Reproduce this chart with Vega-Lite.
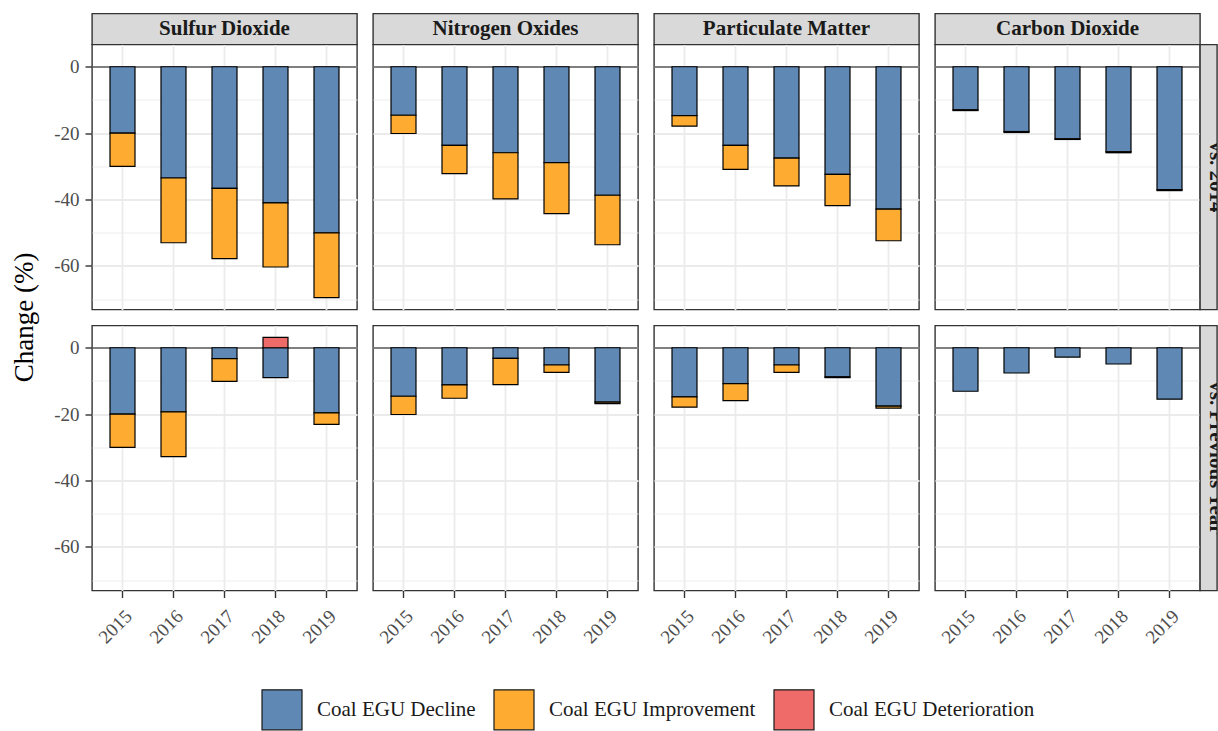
{
  "$schema": "https://vega.github.io/schema/vega-lite/v6.json",
  "background": "white",
  "padding": {"left": 0, "top": 12.5, "right": 0, "bottom": 0},
  "config": {
    "font": "Liberation Serif",
    "view": {"stroke": "#333333", "strokeWidth": 1.4, "fill": "white"},
    "axis": {
      "labelFont": "Liberation Serif", "labelFontSize": 19, "labelColor": "#4D4D4D",
      "tickColor": "#333333", "tickWidth": 1.4, "tickSize": 7,
      "gridColor": "#EBEBEB", "domain": false, "title": null
    },
    "legend": {
      "symbolType": "square", "symbolSize": 1600, "symbolStrokeColor": "#1A1A1A", "symbolStrokeWidth": 1.2,
      "symbolOpacity": 1, "labelFont": "Liberation Serif", "labelFontSize": 21, "labelColor": "#1A1A1A",
      "labelOffset": 14, "columnPadding": 15, "padding": 0, "labelLimit": 400
    }
  },
  "datasets": {
    "emissions": [
      {"pollutant": "Sulfur Dioxide", "comparison": "vs. 2014", "year": "2015", "component": "Coal EGU Decline", "value": -20.0},
      {"pollutant": "Sulfur Dioxide", "comparison": "vs. 2014", "year": "2015", "component": "Coal EGU Improvement", "value": -10.0},
      {"pollutant": "Sulfur Dioxide", "comparison": "vs. 2014", "year": "2016", "component": "Coal EGU Decline", "value": -33.5},
      {"pollutant": "Sulfur Dioxide", "comparison": "vs. 2014", "year": "2016", "component": "Coal EGU Improvement", "value": -19.5},
      {"pollutant": "Sulfur Dioxide", "comparison": "vs. 2014", "year": "2017", "component": "Coal EGU Decline", "value": -36.6},
      {"pollutant": "Sulfur Dioxide", "comparison": "vs. 2014", "year": "2017", "component": "Coal EGU Improvement", "value": -21.2},
      {"pollutant": "Sulfur Dioxide", "comparison": "vs. 2014", "year": "2018", "component": "Coal EGU Decline", "value": -41.0},
      {"pollutant": "Sulfur Dioxide", "comparison": "vs. 2014", "year": "2018", "component": "Coal EGU Improvement", "value": -19.3},
      {"pollutant": "Sulfur Dioxide", "comparison": "vs. 2014", "year": "2019", "component": "Coal EGU Decline", "value": -50.0},
      {"pollutant": "Sulfur Dioxide", "comparison": "vs. 2014", "year": "2019", "component": "Coal EGU Improvement", "value": -19.5},
      {"pollutant": "Nitrogen Oxides", "comparison": "vs. 2014", "year": "2015", "component": "Coal EGU Decline", "value": -14.6},
      {"pollutant": "Nitrogen Oxides", "comparison": "vs. 2014", "year": "2015", "component": "Coal EGU Improvement", "value": -5.5},
      {"pollutant": "Nitrogen Oxides", "comparison": "vs. 2014", "year": "2016", "component": "Coal EGU Decline", "value": -23.7},
      {"pollutant": "Nitrogen Oxides", "comparison": "vs. 2014", "year": "2016", "component": "Coal EGU Improvement", "value": -8.5},
      {"pollutant": "Nitrogen Oxides", "comparison": "vs. 2014", "year": "2017", "component": "Coal EGU Decline", "value": -25.9},
      {"pollutant": "Nitrogen Oxides", "comparison": "vs. 2014", "year": "2017", "component": "Coal EGU Improvement", "value": -13.9},
      {"pollutant": "Nitrogen Oxides", "comparison": "vs. 2014", "year": "2018", "component": "Coal EGU Decline", "value": -28.9},
      {"pollutant": "Nitrogen Oxides", "comparison": "vs. 2014", "year": "2018", "component": "Coal EGU Improvement", "value": -15.3},
      {"pollutant": "Nitrogen Oxides", "comparison": "vs. 2014", "year": "2019", "component": "Coal EGU Decline", "value": -38.7},
      {"pollutant": "Nitrogen Oxides", "comparison": "vs. 2014", "year": "2019", "component": "Coal EGU Improvement", "value": -14.9},
      {"pollutant": "Particulate Matter", "comparison": "vs. 2014", "year": "2015", "component": "Coal EGU Decline", "value": -14.7},
      {"pollutant": "Particulate Matter", "comparison": "vs. 2014", "year": "2015", "component": "Coal EGU Improvement", "value": -3.2},
      {"pollutant": "Particulate Matter", "comparison": "vs. 2014", "year": "2016", "component": "Coal EGU Decline", "value": -23.7},
      {"pollutant": "Particulate Matter", "comparison": "vs. 2014", "year": "2016", "component": "Coal EGU Improvement", "value": -7.2},
      {"pollutant": "Particulate Matter", "comparison": "vs. 2014", "year": "2017", "component": "Coal EGU Decline", "value": -27.5},
      {"pollutant": "Particulate Matter", "comparison": "vs. 2014", "year": "2017", "component": "Coal EGU Improvement", "value": -8.4},
      {"pollutant": "Particulate Matter", "comparison": "vs. 2014", "year": "2018", "component": "Coal EGU Decline", "value": -32.4},
      {"pollutant": "Particulate Matter", "comparison": "vs. 2014", "year": "2018", "component": "Coal EGU Improvement", "value": -9.4},
      {"pollutant": "Particulate Matter", "comparison": "vs. 2014", "year": "2019", "component": "Coal EGU Decline", "value": -42.9},
      {"pollutant": "Particulate Matter", "comparison": "vs. 2014", "year": "2019", "component": "Coal EGU Improvement", "value": -9.5},
      {"pollutant": "Carbon Dioxide", "comparison": "vs. 2014", "year": "2015", "component": "Coal EGU Decline", "value": -13.0},
      {"pollutant": "Carbon Dioxide", "comparison": "vs. 2014", "year": "2015", "component": "Coal EGU Improvement", "value": -0.2},
      {"pollutant": "Carbon Dioxide", "comparison": "vs. 2014", "year": "2016", "component": "Coal EGU Decline", "value": -19.5},
      {"pollutant": "Carbon Dioxide", "comparison": "vs. 2014", "year": "2016", "component": "Coal EGU Improvement", "value": -0.3},
      {"pollutant": "Carbon Dioxide", "comparison": "vs. 2014", "year": "2017", "component": "Coal EGU Decline", "value": -21.7},
      {"pollutant": "Carbon Dioxide", "comparison": "vs. 2014", "year": "2017", "component": "Coal EGU Improvement", "value": -0.2},
      {"pollutant": "Carbon Dioxide", "comparison": "vs. 2014", "year": "2018", "component": "Coal EGU Decline", "value": -25.6},
      {"pollutant": "Carbon Dioxide", "comparison": "vs. 2014", "year": "2018", "component": "Coal EGU Improvement", "value": -0.3},
      {"pollutant": "Carbon Dioxide", "comparison": "vs. 2014", "year": "2019", "component": "Coal EGU Decline", "value": -37.0},
      {"pollutant": "Carbon Dioxide", "comparison": "vs. 2014", "year": "2019", "component": "Coal EGU Improvement", "value": -0.3},
      {"pollutant": "Sulfur Dioxide", "comparison": "vs. Previous Year", "year": "2015", "component": "Coal EGU Decline", "value": -20.0},
      {"pollutant": "Sulfur Dioxide", "comparison": "vs. Previous Year", "year": "2015", "component": "Coal EGU Improvement", "value": -10.0},
      {"pollutant": "Sulfur Dioxide", "comparison": "vs. Previous Year", "year": "2016", "component": "Coal EGU Decline", "value": -19.3},
      {"pollutant": "Sulfur Dioxide", "comparison": "vs. Previous Year", "year": "2016", "component": "Coal EGU Improvement", "value": -13.5},
      {"pollutant": "Sulfur Dioxide", "comparison": "vs. Previous Year", "year": "2017", "component": "Coal EGU Decline", "value": -3.3},
      {"pollutant": "Sulfur Dioxide", "comparison": "vs. Previous Year", "year": "2017", "component": "Coal EGU Improvement", "value": -6.8},
      {"pollutant": "Sulfur Dioxide", "comparison": "vs. Previous Year", "year": "2018", "component": "Coal EGU Decline", "value": -9.0},
      {"pollutant": "Sulfur Dioxide", "comparison": "vs. Previous Year", "year": "2018", "component": "Coal EGU Deterioration", "value": 3.1},
      {"pollutant": "Sulfur Dioxide", "comparison": "vs. Previous Year", "year": "2019", "component": "Coal EGU Decline", "value": -19.6},
      {"pollutant": "Sulfur Dioxide", "comparison": "vs. Previous Year", "year": "2019", "component": "Coal EGU Improvement", "value": -3.5},
      {"pollutant": "Nitrogen Oxides", "comparison": "vs. Previous Year", "year": "2015", "component": "Coal EGU Decline", "value": -14.6},
      {"pollutant": "Nitrogen Oxides", "comparison": "vs. Previous Year", "year": "2015", "component": "Coal EGU Improvement", "value": -5.5},
      {"pollutant": "Nitrogen Oxides", "comparison": "vs. Previous Year", "year": "2016", "component": "Coal EGU Decline", "value": -11.2},
      {"pollutant": "Nitrogen Oxides", "comparison": "vs. Previous Year", "year": "2016", "component": "Coal EGU Improvement", "value": -4.0},
      {"pollutant": "Nitrogen Oxides", "comparison": "vs. Previous Year", "year": "2017", "component": "Coal EGU Decline", "value": -3.2},
      {"pollutant": "Nitrogen Oxides", "comparison": "vs. Previous Year", "year": "2017", "component": "Coal EGU Improvement", "value": -7.9},
      {"pollutant": "Nitrogen Oxides", "comparison": "vs. Previous Year", "year": "2018", "component": "Coal EGU Decline", "value": -5.2},
      {"pollutant": "Nitrogen Oxides", "comparison": "vs. Previous Year", "year": "2018", "component": "Coal EGU Improvement", "value": -2.2},
      {"pollutant": "Nitrogen Oxides", "comparison": "vs. Previous Year", "year": "2019", "component": "Coal EGU Decline", "value": -16.4},
      {"pollutant": "Nitrogen Oxides", "comparison": "vs. Previous Year", "year": "2019", "component": "Coal EGU Improvement", "value": -0.4},
      {"pollutant": "Particulate Matter", "comparison": "vs. Previous Year", "year": "2015", "component": "Coal EGU Decline", "value": -14.8},
      {"pollutant": "Particulate Matter", "comparison": "vs. Previous Year", "year": "2015", "component": "Coal EGU Improvement", "value": -3.1},
      {"pollutant": "Particulate Matter", "comparison": "vs. Previous Year", "year": "2016", "component": "Coal EGU Decline", "value": -10.8},
      {"pollutant": "Particulate Matter", "comparison": "vs. Previous Year", "year": "2016", "component": "Coal EGU Improvement", "value": -5.1},
      {"pollutant": "Particulate Matter", "comparison": "vs. Previous Year", "year": "2017", "component": "Coal EGU Decline", "value": -5.2},
      {"pollutant": "Particulate Matter", "comparison": "vs. Previous Year", "year": "2017", "component": "Coal EGU Improvement", "value": -2.2},
      {"pollutant": "Particulate Matter", "comparison": "vs. Previous Year", "year": "2018", "component": "Coal EGU Decline", "value": -8.8},
      {"pollutant": "Particulate Matter", "comparison": "vs. Previous Year", "year": "2018", "component": "Coal EGU Improvement", "value": -0.2},
      {"pollutant": "Particulate Matter", "comparison": "vs. Previous Year", "year": "2019", "component": "Coal EGU Decline", "value": -17.6},
      {"pollutant": "Particulate Matter", "comparison": "vs. Previous Year", "year": "2019", "component": "Coal EGU Improvement", "value": -0.6},
      {"pollutant": "Carbon Dioxide", "comparison": "vs. Previous Year", "year": "2015", "component": "Coal EGU Decline", "value": -13.1},
      {"pollutant": "Carbon Dioxide", "comparison": "vs. Previous Year", "year": "2016", "component": "Coal EGU Decline", "value": -7.6},
      {"pollutant": "Carbon Dioxide", "comparison": "vs. Previous Year", "year": "2017", "component": "Coal EGU Decline", "value": -2.8},
      {"pollutant": "Carbon Dioxide", "comparison": "vs. Previous Year", "year": "2018", "component": "Coal EGU Decline", "value": -4.9},
      {"pollutant": "Carbon Dioxide", "comparison": "vs. Previous Year", "year": "2019", "component": "Coal EGU Decline", "value": -15.5}
    ]
  },
  "data": {"name": "emissions"},
  "columns": 9,
  "spacing": 0,
  "bounds": "flush",
  "align": "each",
  "concat": [
    {"width": 1, "height": 1, "view": {"stroke": null, "fill": null}, "data": {"values": []}, "mark": "text"},
    {"width": 265, "height": 31, "view": {"fill": "#D9D9D9", "stroke": "#333333", "strokeWidth": 1.4}, "data": {"values": [{"label": "Sulfur Dioxide"}]}, "mark": {"type": "text", "font": "Liberation Serif", "fontSize": 21, "fontWeight": "bold", "color": "#1A1A1A"}, "encoding": {"text": {"field": "label"}}},
    {"width": 1, "height": 1, "view": {"stroke": null, "fill": null}, "data": {"values": []}, "mark": "text"},
    {"width": 265, "height": 31, "view": {"fill": "#D9D9D9", "stroke": "#333333", "strokeWidth": 1.4}, "data": {"values": [{"label": "Nitrogen Oxides"}]}, "mark": {"type": "text", "font": "Liberation Serif", "fontSize": 21, "fontWeight": "bold", "color": "#1A1A1A"}, "encoding": {"text": {"field": "label"}}},
    {"width": 1, "height": 1, "view": {"stroke": null, "fill": null}, "data": {"values": []}, "mark": "text"},
    {"width": 265, "height": 31, "view": {"fill": "#D9D9D9", "stroke": "#333333", "strokeWidth": 1.4}, "data": {"values": [{"label": "Particulate Matter"}]}, "mark": {"type": "text", "font": "Liberation Serif", "fontSize": 21, "fontWeight": "bold", "color": "#1A1A1A"}, "encoding": {"text": {"field": "label"}}},
    {"width": 1, "height": 1, "view": {"stroke": null, "fill": null}, "data": {"values": []}, "mark": "text"},
    {"width": 265, "height": 31, "view": {"fill": "#D9D9D9", "stroke": "#333333", "strokeWidth": 1.4}, "data": {"values": [{"label": "Carbon Dioxide"}]}, "mark": {"type": "text", "font": "Liberation Serif", "fontSize": 21, "fontWeight": "bold", "color": "#1A1A1A"}, "encoding": {"text": {"field": "label"}}},
    {"width": 1, "height": 1, "view": {"stroke": null, "fill": null}, "data": {"values": []}, "mark": "text"},

    {"width": 92, "height": 265, "view": {"stroke": null, "fill": null}, "data": {"values": [{"label": "Change (%)"}]}, "mark": {"type": "text", "angle": 270, "dx": -140.3, "dy": -21, "font": "Liberation Serif", "fontSize": 27, "color": "black"}, "encoding": {"text": {"field": "label"}}},
    {"width": 265, "height": 265,
     "transform": [{"filter": {"and": [{"field": "pollutant", "equal": "Sulfur Dioxide"}, {"field": "comparison", "equal": "vs. 2014"}]}}],
     "mark": {"type": "bar", "stroke": "black", "strokeWidth": 1.2},
     "encoding": {
       "x": {"field": "year", "type": "ordinal", "scale": {"paddingInner": 0.51, "paddingOuter": 0.353}, "axis": {"grid": true, "labels": false, "ticks": false, "bandPosition": 0.5, "gridWidth": 1.8}},
       "y": {"field": "value", "type": "quantitative", "stack": "zero", "scale": {"domain": [-73.1, 6.7], "nice": false, "zero": false}, "axis": {"values": [-70, -60, -50, -40, -30, -20, -10, 0], "labelExpr": "datum.value % 20 === 0 ? '' + datum.value : ''", "labelFlush": false, "labelPadding": 6, "gridColor": {"condition": {"test": "datum.value === 0", "value": "#808080"}, "value": "#EBEBEB"}, "gridWidth": {"condition": {"test": "datum.value % 20 === 0", "value": 1.8}, "value": 0.9}, "tickOpacity": {"condition": {"test": "datum.value % 20 === 0", "value": 1}, "value": 0}}},
       "color": {"field": "component", "type": "nominal", "scale": {"domain": ["Coal EGU Decline", "Coal EGU Improvement", "Coal EGU Deterioration"], "range": ["#6088B4", "#FDAC31", "#EE6B69"]}, "legend": {"title": null, "orient": "none", "legendX": 261, "legendY": 675, "direction": "horizontal"}},
       "order": {"field": "component", "sort": "ascending"}
     }},
    {"width": 16, "height": 1, "view": {"stroke": null, "fill": null}, "data": {"values": []}, "mark": "text"},
    {"width": 265, "height": 265,
     "transform": [{"filter": {"and": [{"field": "pollutant", "equal": "Nitrogen Oxides"}, {"field": "comparison", "equal": "vs. 2014"}]}}],
     "mark": {"type": "bar", "stroke": "black", "strokeWidth": 1.2},
     "encoding": {
       "x": {"field": "year", "type": "ordinal", "scale": {"paddingInner": 0.51, "paddingOuter": 0.353}, "axis": {"grid": true, "labels": false, "ticks": false, "bandPosition": 0.5, "gridWidth": 1.8}},
       "y": {"field": "value", "type": "quantitative", "stack": "zero", "scale": {"domain": [-73.1, 6.7], "nice": false, "zero": false}, "axis": {"values": [-70, -60, -50, -40, -30, -20, -10, 0], "labels": false, "ticks": false, "gridColor": {"condition": {"test": "datum.value === 0", "value": "#808080"}, "value": "#EBEBEB"}, "gridWidth": {"condition": {"test": "datum.value % 20 === 0", "value": 1.8}, "value": 0.9}}},
       "color": {"field": "component", "type": "nominal", "scale": {"domain": ["Coal EGU Decline", "Coal EGU Improvement", "Coal EGU Deterioration"], "range": ["#6088B4", "#FDAC31", "#EE6B69"]}, "legend": {"title": null, "orient": "none", "legendX": 261, "legendY": 675, "direction": "horizontal"}},
       "order": {"field": "component", "sort": "ascending"}
     }},
    {"width": 16, "height": 1, "view": {"stroke": null, "fill": null}, "data": {"values": []}, "mark": "text"},
    {"width": 265, "height": 265,
     "transform": [{"filter": {"and": [{"field": "pollutant", "equal": "Particulate Matter"}, {"field": "comparison", "equal": "vs. 2014"}]}}],
     "mark": {"type": "bar", "stroke": "black", "strokeWidth": 1.2},
     "encoding": {
       "x": {"field": "year", "type": "ordinal", "scale": {"paddingInner": 0.51, "paddingOuter": 0.353}, "axis": {"grid": true, "labels": false, "ticks": false, "bandPosition": 0.5, "gridWidth": 1.8}},
       "y": {"field": "value", "type": "quantitative", "stack": "zero", "scale": {"domain": [-73.1, 6.7], "nice": false, "zero": false}, "axis": {"values": [-70, -60, -50, -40, -30, -20, -10, 0], "labels": false, "ticks": false, "gridColor": {"condition": {"test": "datum.value === 0", "value": "#808080"}, "value": "#EBEBEB"}, "gridWidth": {"condition": {"test": "datum.value % 20 === 0", "value": 1.8}, "value": 0.9}}},
       "color": {"field": "component", "type": "nominal", "scale": {"domain": ["Coal EGU Decline", "Coal EGU Improvement", "Coal EGU Deterioration"], "range": ["#6088B4", "#FDAC31", "#EE6B69"]}, "legend": {"title": null, "orient": "none", "legendX": 261, "legendY": 675, "direction": "horizontal"}},
       "order": {"field": "component", "sort": "ascending"}
     }},
    {"width": 16, "height": 1, "view": {"stroke": null, "fill": null}, "data": {"values": []}, "mark": "text"},
    {"width": 265, "height": 265,
     "transform": [{"filter": {"and": [{"field": "pollutant", "equal": "Carbon Dioxide"}, {"field": "comparison", "equal": "vs. 2014"}]}}],
     "mark": {"type": "bar", "stroke": "black", "strokeWidth": 1.2},
     "encoding": {
       "x": {"field": "year", "type": "ordinal", "scale": {"paddingInner": 0.51, "paddingOuter": 0.353}, "axis": {"grid": true, "labels": false, "ticks": false, "bandPosition": 0.5, "gridWidth": 1.8}},
       "y": {"field": "value", "type": "quantitative", "stack": "zero", "scale": {"domain": [-73.1, 6.7], "nice": false, "zero": false}, "axis": {"values": [-70, -60, -50, -40, -30, -20, -10, 0], "labels": false, "ticks": false, "gridColor": {"condition": {"test": "datum.value === 0", "value": "#808080"}, "value": "#EBEBEB"}, "gridWidth": {"condition": {"test": "datum.value % 20 === 0", "value": 1.8}, "value": 0.9}}},
       "color": {"field": "component", "type": "nominal", "scale": {"domain": ["Coal EGU Decline", "Coal EGU Improvement", "Coal EGU Deterioration"], "range": ["#6088B4", "#FDAC31", "#EE6B69"]}, "legend": {"title": null, "orient": "none", "legendX": 261, "legendY": 675, "direction": "horizontal"}},
       "order": {"field": "component", "sort": "ascending"}
     }},
    {"width": 17, "height": 265, "view": {"fill": "#D9D9D9", "stroke": "#333333", "strokeWidth": 1.4}, "data": {"values": [{"label": "vs. 2014"}]}, "mark": {"type": "text", "angle": 90, "dy": -7, "clip": true, "font": "Liberation Serif", "fontSize": 21, "fontWeight": "bold", "color": "#1A1A1A"}, "encoding": {"text": {"field": "label"}}},

    {"width": 1, "height": 16, "view": {"stroke": null, "fill": null}, "data": {"values": []}, "mark": "text"},
    {"width": 1, "height": 16, "view": {"stroke": null, "fill": null}, "data": {"values": []}, "mark": "text"},
    {"width": 1, "height": 16, "view": {"stroke": null, "fill": null}, "data": {"values": []}, "mark": "text"},
    {"width": 1, "height": 16, "view": {"stroke": null, "fill": null}, "data": {"values": []}, "mark": "text"},
    {"width": 1, "height": 16, "view": {"stroke": null, "fill": null}, "data": {"values": []}, "mark": "text"},
    {"width": 1, "height": 16, "view": {"stroke": null, "fill": null}, "data": {"values": []}, "mark": "text"},
    {"width": 1, "height": 16, "view": {"stroke": null, "fill": null}, "data": {"values": []}, "mark": "text"},
    {"width": 1, "height": 16, "view": {"stroke": null, "fill": null}, "data": {"values": []}, "mark": "text"},
    {"width": 1, "height": 16, "view": {"stroke": null, "fill": null}, "data": {"values": []}, "mark": "text"},

    {"width": 1, "height": 1, "view": {"stroke": null, "fill": null}, "data": {"values": []}, "mark": "text"},
    {"width": 265, "height": 265,
     "transform": [{"filter": {"and": [{"field": "pollutant", "equal": "Sulfur Dioxide"}, {"field": "comparison", "equal": "vs. Previous Year"}]}}],
     "mark": {"type": "bar", "stroke": "black", "strokeWidth": 1.2},
     "encoding": {
       "x": {"field": "year", "type": "ordinal", "scale": {"paddingInner": 0.51, "paddingOuter": 0.353}, "axis": {"grid": true, "bandPosition": 0.5, "gridWidth": 1.8, "labelAngle": -45, "labelAlign": "right", "labelBaseline": "top", "labelPadding": 9}},
       "y": {"field": "value", "type": "quantitative", "stack": "zero", "scale": {"domain": [-73.1, 6.7], "nice": false, "zero": false}, "axis": {"values": [-70, -60, -50, -40, -30, -20, -10, 0], "labelExpr": "datum.value % 20 === 0 ? '' + datum.value : ''", "labelFlush": false, "labelPadding": 6, "gridColor": {"condition": {"test": "datum.value === 0", "value": "#808080"}, "value": "#EBEBEB"}, "gridWidth": {"condition": {"test": "datum.value % 20 === 0", "value": 1.8}, "value": 0.9}, "tickOpacity": {"condition": {"test": "datum.value % 20 === 0", "value": 1}, "value": 0}}},
       "color": {"field": "component", "type": "nominal", "scale": {"domain": ["Coal EGU Decline", "Coal EGU Improvement", "Coal EGU Deterioration"], "range": ["#6088B4", "#FDAC31", "#EE6B69"]}, "legend": {"title": null, "orient": "none", "legendX": 261, "legendY": 675, "direction": "horizontal"}},
       "order": {"field": "component", "sort": "ascending"}
     }},
    {"width": 16, "height": 1, "view": {"stroke": null, "fill": null}, "data": {"values": []}, "mark": "text"},
    {"width": 265, "height": 265,
     "transform": [{"filter": {"and": [{"field": "pollutant", "equal": "Nitrogen Oxides"}, {"field": "comparison", "equal": "vs. Previous Year"}]}}],
     "mark": {"type": "bar", "stroke": "black", "strokeWidth": 1.2},
     "encoding": {
       "x": {"field": "year", "type": "ordinal", "scale": {"paddingInner": 0.51, "paddingOuter": 0.353}, "axis": {"grid": true, "bandPosition": 0.5, "gridWidth": 1.8, "labelAngle": -45, "labelAlign": "right", "labelBaseline": "top", "labelPadding": 9}},
       "y": {"field": "value", "type": "quantitative", "stack": "zero", "scale": {"domain": [-73.1, 6.7], "nice": false, "zero": false}, "axis": {"values": [-70, -60, -50, -40, -30, -20, -10, 0], "labels": false, "ticks": false, "gridColor": {"condition": {"test": "datum.value === 0", "value": "#808080"}, "value": "#EBEBEB"}, "gridWidth": {"condition": {"test": "datum.value % 20 === 0", "value": 1.8}, "value": 0.9}}},
       "color": {"field": "component", "type": "nominal", "scale": {"domain": ["Coal EGU Decline", "Coal EGU Improvement", "Coal EGU Deterioration"], "range": ["#6088B4", "#FDAC31", "#EE6B69"]}, "legend": {"title": null, "orient": "none", "legendX": 261, "legendY": 675, "direction": "horizontal"}},
       "order": {"field": "component", "sort": "ascending"}
     }},
    {"width": 16, "height": 1, "view": {"stroke": null, "fill": null}, "data": {"values": []}, "mark": "text"},
    {"width": 265, "height": 265,
     "transform": [{"filter": {"and": [{"field": "pollutant", "equal": "Particulate Matter"}, {"field": "comparison", "equal": "vs. Previous Year"}]}}],
     "mark": {"type": "bar", "stroke": "black", "strokeWidth": 1.2},
     "encoding": {
       "x": {"field": "year", "type": "ordinal", "scale": {"paddingInner": 0.51, "paddingOuter": 0.353}, "axis": {"grid": true, "bandPosition": 0.5, "gridWidth": 1.8, "labelAngle": -45, "labelAlign": "right", "labelBaseline": "top", "labelPadding": 9}},
       "y": {"field": "value", "type": "quantitative", "stack": "zero", "scale": {"domain": [-73.1, 6.7], "nice": false, "zero": false}, "axis": {"values": [-70, -60, -50, -40, -30, -20, -10, 0], "labels": false, "ticks": false, "gridColor": {"condition": {"test": "datum.value === 0", "value": "#808080"}, "value": "#EBEBEB"}, "gridWidth": {"condition": {"test": "datum.value % 20 === 0", "value": 1.8}, "value": 0.9}}},
       "color": {"field": "component", "type": "nominal", "scale": {"domain": ["Coal EGU Decline", "Coal EGU Improvement", "Coal EGU Deterioration"], "range": ["#6088B4", "#FDAC31", "#EE6B69"]}, "legend": {"title": null, "orient": "none", "legendX": 261, "legendY": 675, "direction": "horizontal"}},
       "order": {"field": "component", "sort": "ascending"}
     }},
    {"width": 16, "height": 1, "view": {"stroke": null, "fill": null}, "data": {"values": []}, "mark": "text"},
    {"width": 265, "height": 265,
     "transform": [{"filter": {"and": [{"field": "pollutant", "equal": "Carbon Dioxide"}, {"field": "comparison", "equal": "vs. Previous Year"}]}}],
     "mark": {"type": "bar", "stroke": "black", "strokeWidth": 1.2},
     "encoding": {
       "x": {"field": "year", "type": "ordinal", "scale": {"paddingInner": 0.51, "paddingOuter": 0.353}, "axis": {"grid": true, "bandPosition": 0.5, "gridWidth": 1.8, "labelAngle": -45, "labelAlign": "right", "labelBaseline": "top", "labelPadding": 9}},
       "y": {"field": "value", "type": "quantitative", "stack": "zero", "scale": {"domain": [-73.1, 6.7], "nice": false, "zero": false}, "axis": {"values": [-70, -60, -50, -40, -30, -20, -10, 0], "labels": false, "ticks": false, "gridColor": {"condition": {"test": "datum.value === 0", "value": "#808080"}, "value": "#EBEBEB"}, "gridWidth": {"condition": {"test": "datum.value % 20 === 0", "value": 1.8}, "value": 0.9}}},
       "color": {"field": "component", "type": "nominal", "scale": {"domain": ["Coal EGU Decline", "Coal EGU Improvement", "Coal EGU Deterioration"], "range": ["#6088B4", "#FDAC31", "#EE6B69"]}, "legend": {"title": null, "orient": "none", "legendX": 261, "legendY": 675, "direction": "horizontal"}},
       "order": {"field": "component", "sort": "ascending"}
     }},
    {"width": 17, "height": 265, "view": {"fill": "#D9D9D9", "stroke": "#333333", "strokeWidth": 1.4}, "data": {"values": [{"label": "vs. Previous Year"}]}, "mark": {"type": "text", "angle": 90, "dy": -7, "clip": true, "font": "Liberation Serif", "fontSize": 21, "fontWeight": "bold", "color": "#1A1A1A"}, "encoding": {"text": {"field": "label"}}}
  ]
}
